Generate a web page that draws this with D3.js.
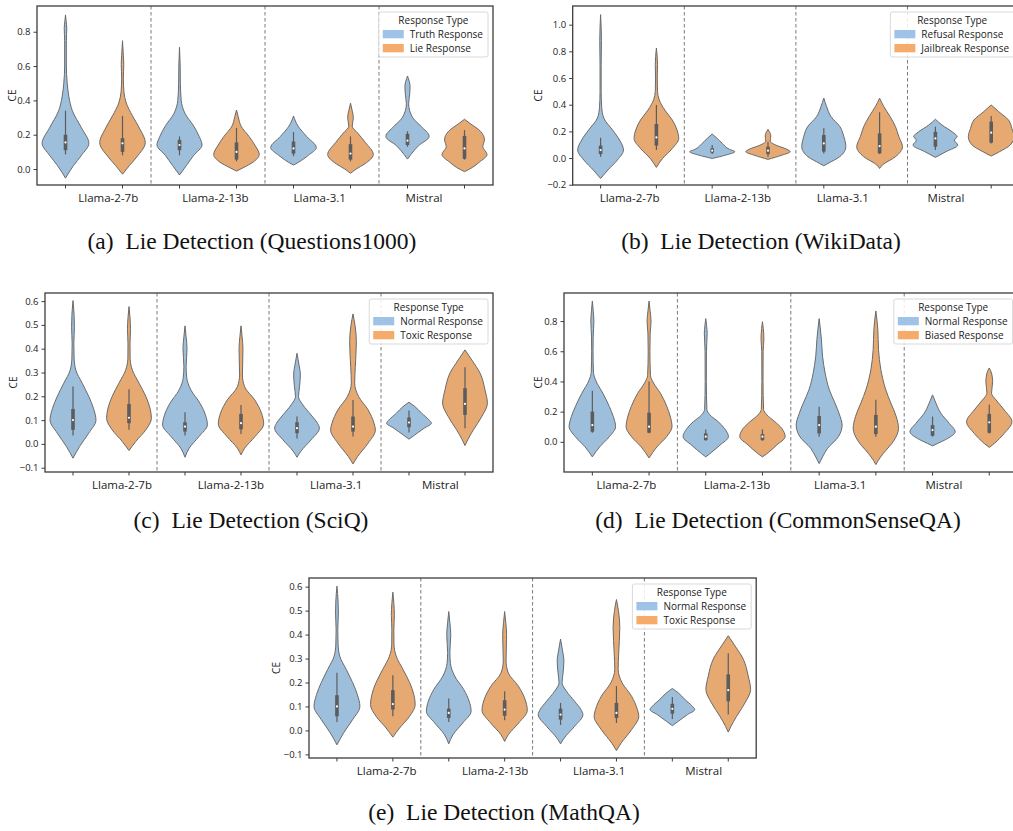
<!DOCTYPE html>
<html><head><meta charset="utf-8">
<script src="https://cdn.jsdelivr.net/npm/d3@7"></script>
<style>body{margin:0;background:#fff}svg{display:block}</style>
</head><body>
<svg id="chart" width="1013" height="831"></svg>
<script>
// ---------------- DATA ----------------
const models = ["Llama-2-7b", "Llama-2-13b", "Llama-3.1", "Mistral"];
const legendA = ["Truth Response", "Lie Response"];
const legendB = ["Refusal Response", "Jailbreak Response"];
const legendC = ["Normal Response", "Toxic Response"];
const legendD = ["Normal Response", "Biased Response"];
const legendE = ["Normal Response", "Toxic Response"];
const yTicksA = [0.0, 0.2, 0.4, 0.6, 0.8];
const yTicksB = [-0.2, 0.0, 0.2, 0.4, 0.6, 0.8, 1.0];
const yTicksC = [-0.1, 0.0, 0.1, 0.2, 0.3, 0.4, 0.5, 0.6];
const yTicksD = [0.0, 0.2, 0.4, 0.6, 0.8];
const yTicksE = [-0.1, 0.0, 0.1, 0.2, 0.3, 0.4, 0.5, 0.6];
const captions = ["(a)  Lie Detection (Questions1000)", "(b)  Lie Detection (WikiData)",
  "(c)  Lie Detection (SciQ)", "(d)  Lie Detection (CommonSenseQA)", "(e)  Lie Detection (MathQA)"];

// violin density profiles: [CE value, relative half-width], order: model x response type
const shapesA = [
  [[-0.053,0],[-0.02,0.06],[0.02,0.14],[0.08,0.28],[0.15,0.41],[0.24,0.28],[0.34,0.12],[0.42,0.06],[0.5,0.03],[0.6,0.015],[0.75,0.015],[0.82,0.022],[0.86,0.012],[0.898,0]],
  [[-0.03,0],[0.02,0.12],[0.07,0.25],[0.155,0.40],[0.23,0.31],[0.31,0.175],[0.385,0.065],[0.45,0.025],[0.53,0.015],[0.61,0.022],[0.66,0.015],[0.748,0]],
  [[-0.035,0],[0.02,0.12],[0.08,0.25],[0.14,0.395],[0.19,0.345],[0.25,0.25],[0.325,0.095],[0.4,0.03],[0.5,0.015],[0.6,0.012],[0.71,0]],
  [[-0.012,0],[0.01,0.13],[0.04,0.29],[0.085,0.40],[0.135,0.33],[0.19,0.22],[0.25,0.08],[0.305,0.03],[0.344,0]],
  [[0.023,0],[0.04,0.09],[0.08,0.26],[0.125,0.40],[0.19,0.23],[0.25,0.08],[0.309,0]],
  [[-0.025,0],[0.0,0.1],[0.03,0.25],[0.085,0.40],[0.155,0.26],[0.21,0.125],[0.25,0.03],[0.3,0.05],[0.34,0.03],[0.384,0]],
  [[0.058,0],[0.085,0.06],[0.135,0.19],[0.19,0.38],[0.25,0.235],[0.3,0.09],[0.38,0.02],[0.44,0.04],[0.48,0.045],[0.542,0]],
  [[-0.015,0],[0.0,0.09],[0.04,0.26],[0.085,0.395],[0.13,0.32],[0.17,0.35],[0.22,0.28],[0.265,0.10],[0.29,0]]
];
const boxesA = [ // [low whisker, q1, median, q3, high whisker]
  [0.085,0.11,0.155,0.2,0.34],[0.08,0.1,0.15,0.18,0.31],[0.08,0.11,0.14,0.17,0.19],[0.045,0.055,0.1,0.155,0.24],
  [0.075,0.09,0.12,0.16,0.215],[0.045,0.055,0.09,0.145,0.19],[0.13,0.14,0.165,0.205,0.22],[0.055,0.06,0.12,0.193,0.227]
];
const shapesB = [
  [[-0.153,0],[-0.09,0.13],[-0.015,0.30],[0.06,0.41],[0.135,0.34],[0.21,0.215],[0.3,0.057],[0.38,0.02],[0.5,0.01],[0.7,0.01],[0.88,0.015],[1.075,0]],
  [[-0.07,0],[-0.003,0.11],[0.072,0.285],[0.147,0.40],[0.21,0.37],[0.285,0.285],[0.36,0.15],[0.437,0.05],[0.5,0.02],[0.6,0.015],[0.7,0.02],[0.825,0]],
  [[-0.003,0],[0.022,0.24],[0.048,0.405],[0.065,0.31],[0.11,0.18],[0.147,0.09],[0.18,0]],
  [[-0.01,0],[0.022,0.25],[0.048,0.40],[0.065,0.34],[0.103,0.11],[0.128,0.04],[0.165,0.05],[0.215,0]],
  [[-0.058,0],[-0.04,0.075],[0.01,0.285],[0.085,0.395],[0.16,0.36],[0.235,0.29],[0.31,0.13],[0.386,0.05],[0.449,0]],
  [[-0.078,0],[-0.052,0.05],[0.01,0.285],[0.085,0.41],[0.16,0.345],[0.235,0.285],[0.31,0.19],[0.386,0.075],[0.449,0]],
  [[0.005,0],[0.048,0.19],[0.097,0.40],[0.135,0.34],[0.16,0.39],[0.197,0.30],[0.247,0.12],[0.291,0]],
  [[0.015,0],[0.048,0.15],[0.097,0.34],[0.16,0.41],[0.223,0.37],[0.285,0.31],[0.348,0.135],[0.398,0]]
];
const boxesB = [
  [0.01,0.03,0.06,0.093,0.153],[0.06,0.093,0.155,0.256,0.398],[0.03,0.04,0.055,0.073,0.097],[0.01,0.03,0.055,0.085,0.123],
  [0.035,0.048,0.11,0.173,0.223],[0.03,0.035,0.09,0.185,0.343],[0.06,0.085,0.147,0.197,0.235],[0.11,0.115,0.19,0.273,0.315]
];
const shapesC = [
  [[-0.06,0],[-0.01,0.12],[0.045,0.28],[0.1,0.41],[0.15,0.365],[0.2,0.28],[0.255,0.165],[0.31,0.05],[0.36,0.02],[0.42,0.015],[0.49,0.025],[0.54,0.02],[0.602,0]],
  [[-0.028,0],[0.01,0.12],[0.059,0.30],[0.108,0.40],[0.15,0.375],[0.2,0.30],[0.255,0.18],[0.31,0.06],[0.36,0.02],[0.42,0.018],[0.48,0.027],[0.53,0.018],[0.577,0]],
  [[-0.056,0],[-0.018,0.075],[0.031,0.25],[0.08,0.40],[0.122,0.365],[0.17,0.27],[0.227,0.105],[0.28,0.03],[0.325,0.02],[0.4,0.036],[0.45,0.02],[0.496,0]],
  [[-0.046,0],[-0.018,0.065],[0.031,0.25],[0.084,0.405],[0.13,0.365],[0.185,0.245],[0.24,0.065],[0.29,0.025],[0.34,0.03],[0.4,0.035],[0.45,0.02],[0.496,0]],
  [[-0.056,0],[-0.032,0.065],[0.017,0.25],[0.066,0.40],[0.087,0.365],[0.122,0.25],[0.164,0.105],[0.199,0.027],[0.24,0.045],[0.29,0.06],[0.34,0.03],[0.381,0]],
  [[-0.084,0],[-0.053,0.083],[0.003,0.27],[0.059,0.40],[0.087,0.375],[0.143,0.27],[0.199,0.10],[0.255,0.03],[0.32,0.04],[0.43,0.06],[0.5,0.035],[0.546,0]],
  [[0.02,0],[0.038,0.105],[0.066,0.27],[0.087,0.40],[0.101,0.357],[0.129,0.225],[0.157,0.105],[0.175,0]],
  [[-0.007,0],[0.017,0.048],[0.059,0.15],[0.115,0.30],[0.171,0.40],[0.227,0.357],[0.297,0.27],[0.353,0.12],[0.395,0]]
];
const boxesC = [
  [0.035,0.059,0.1,0.147,0.241],[0.059,0.087,0.11,0.168,0.23],[0.035,0.052,0.073,0.091,0.133],[0.042,0.061,0.087,0.126,0.164],
  [0.023,0.045,0.066,0.091,0.115],[0.031,0.052,0.073,0.115,0.185],[0.048,0.07,0.09,0.111,0.14],[0.066,0.122,0.168,0.234,0.322]
];
const shapesD = [
  [[-0.1,0],[-0.033,0.13],[0.034,0.30],[0.1,0.41],[0.167,0.37],[0.233,0.30],[0.322,0.185],[0.41,0.056],[0.46,0.02],[0.6,0.012],[0.7,0.015],[0.8,0.027],[0.87,0.015],[0.933,0]],
  [[-0.107,0],[-0.033,0.14],[0.034,0.31],[0.1,0.405],[0.167,0.375],[0.233,0.315],[0.322,0.2],[0.389,0.08],[0.44,0.025],[0.6,0.015],[0.72,0.02],[0.8,0.035],[0.87,0.018],[0.933,0]],
  [[-0.1,0],[-0.078,0.074],[-0.022,0.25],[0.034,0.40],[0.089,0.33],[0.133,0.22],[0.178,0.074],[0.215,0.02],[0.4,0.01],[0.6,0.012],[0.72,0.025],[0.77,0.015],[0.816,0]],
  [[-0.1,0],[-0.078,0.08],[-0.022,0.25],[0.034,0.40],[0.089,0.34],[0.133,0.22],[0.178,0.08],[0.215,0.02],[0.4,0.01],[0.6,0.012],[0.68,0.025],[0.75,0.015],[0.796,0]],
  [[-0.144,0],[-0.1,0.06],[-0.044,0.147],[0.034,0.34],[0.111,0.405],[0.189,0.35],[0.256,0.28],[0.344,0.18],[0.456,0.105],[0.567,0.06],[0.678,0.04],[0.816,0]],
  [[-0.151,0],[-0.122,0.044],[-0.078,0.13],[0.011,0.323],[0.089,0.40],[0.167,0.36],[0.256,0.265],[0.344,0.176],[0.478,0.088],[0.611,0.047],[0.745,0.035],[0.867,0]],
  [[-0.027,0],[-0.011,0.088],[0.022,0.265],[0.067,0.40],[0.122,0.295],[0.189,0.147],[0.256,0.06],[0.311,0]],
  [[-0.037,0],[-0.011,0.088],[0.056,0.265],[0.133,0.40],[0.211,0.265],[0.278,0.118],[0.322,0.04],[0.4,0.06],[0.456,0.04],[0.489,0]]
];
const boxesD = [
  [0.06,0.067,0.111,0.2,0.338],[0.056,0.06,0.1,0.193,0.4],[0.007,0.011,0.034,0.056,0.082],[0.007,0.011,0.034,0.051,0.082],
  [0.034,0.056,0.111,0.171,0.233],[0.034,0.051,0.1,0.178,0.278],[0.034,0.04,0.078,0.111,0.167],[0.055,0.06,0.129,0.185,0.245]
];
// panel (e) shows the same distributions as panel (c)
const shapesE = shapesC;
const boxesE = boxesC;

// ---------------- LAYOUT / STYLE ----------------
const fillColors = ["#9dbfdc", "#e6a972"];
const legendColors = ["#9ec3e6", "#f6ab6b"];
const FONT = "'Open Sans', 'DejaVu Sans', sans-serif";

const panels = [
  {shapes: shapesA, boxes: boxesA, legend: legendA, ticks: yTicksA, caption: captions[0], ceX: 12,
   left: 37, top: 6, bottom: 185, band: 57, dom: [-0.093, 0.95], labelPos: [1.25, 3.13, 4.96, 6.79], capX: 252, capY: 249},
  {shapes: shapesB, boxes: boxesB, legend: legendB, ticks: yTicksB, caption: captions[1], ceX: 538,
   left: 572.7, top: 6, bottom: 185, band: 55.8, dom: [-0.202, 1.14], labelPos: [1.02, 2.96, 4.84, 6.69], capX: 761, capY: 249},
  {shapes: shapesC, boxes: boxesC, legend: legendC, ticks: yTicksC, caption: captions[2], ceX: 13,
   left: 45, top: 293, bottom: 472, band: 56, dom: [-0.118, 0.634], labelPos: [1.375, 3.32, 5.2, 7.06], capX: 251, capY: 528},
  {shapes: shapesD, boxes: boxesD, legend: legendD, ticks: yTicksD, caption: captions[3], ceX: 538,
   left: 564, top: 293, bottom: 472, band: 56.7, dom: [-0.2, 0.986], labelPos: [1.10, 3.05, 4.87, 6.70], capX: 778, capY: 528},
  {shapes: shapesE, boxes: boxesE, legend: legendE, ticks: yTicksE, caption: captions[4], ceX: 276,
   left: 309, top: 578, bottom: 758, band: 55.9, dom: [-0.115, 0.636], labelPos: [1.39, 3.33, 5.19, 7.06], capX: 504, capY: 820}
];

const svg = d3.select("#chart");

panels.forEach(p => {
  const g = svg.append("g");
  const keys = [];
  models.forEach(m => p.legend.forEach(t => keys.push(m + "|" + t)));
  const right = p.left + keys.length * p.band;
  const x = d3.scaleBand().domain(keys).range([p.left, right]).padding(0);
  const xu = d3.scaleLinear().domain([0, keys.length]).range([p.left, right]);
  const y = d3.scaleLinear().domain(p.dom).range([p.bottom, p.top]);
  const cx = k => x(k) + x.bandwidth() / 2;

  // dashed separators between model groups
  g.selectAll("line.sep").data(models.slice(1)).join("line")
    .attr("x1", m => x(m + "|" + p.legend[0])).attr("x2", m => x(m + "|" + p.legend[0]))
    .attr("y1", p.top).attr("y2", p.bottom)
    .attr("stroke", "#7a7a7a").attr("stroke-width", 1).attr("stroke-dasharray", "3.5,2.5");

  // violins
  keys.forEach((k, i) => {
    const c = cx(k);
    const bw = x.bandwidth();
    const area = d3.area()
      .y(d => y(d[0]))
      .x0(d => c - d[1] * bw)
      .x1(d => c + d[1] * bw)
      .curve(d3.curveMonotoneY);
    g.append("path").datum(p.shapes[i]).attr("d", area)
      .attr("fill", fillColors[i % 2]).attr("stroke", "#6a6a6a").attr("stroke-width", 1);
    const b = p.boxes[i];
    g.append("line").attr("x1", c).attr("x2", c).attr("y1", y(b[0])).attr("y2", y(b[4]))
      .attr("stroke", "#5c5c5c").attr("stroke-width", 1.2);
    g.append("line").attr("x1", c).attr("x2", c).attr("y1", y(b[1])).attr("y2", y(b[3]))
      .attr("stroke", "#5c5c5c").attr("stroke-width", 3.6);
    g.append("circle").attr("cx", c).attr("cy", y(b[2])).attr("r", 1.1).attr("fill", "#fff");
  });

  // frame
  g.append("rect").attr("x", p.left).attr("y", p.top)
    .attr("width", right - p.left).attr("height", p.bottom - p.top)
    .attr("fill", "none").attr("stroke", "#3d3d3d").attr("stroke-width", 1.3);

  // y axis
  const ya = g.append("g").attr("transform", `translate(${p.left},0)`)
    .call(d3.axisLeft(y).tickValues(p.ticks).tickSize(3.5).tickPadding(3).tickFormat(d3.format(".1f")));
  ya.select(".domain").remove();
  ya.selectAll("line").attr("stroke", "#3d3d3d");
  ya.selectAll("text").attr("font-family", FONT).attr("font-size", 9.5).attr("fill", "#222");
  g.append("text").attr("transform", `translate(${p.ceX},${(p.top + p.bottom) / 2}) rotate(-90)`)
    .attr("dy", "0.35em")
    .attr("text-anchor", "middle").attr("font-family", FONT).attr("font-size", 10).attr("fill", "#222").text("CE");

  // x axis ticks (one per violin)
  const xa = g.append("g").attr("transform", `translate(0,${p.bottom})`)
    .call(d3.axisBottom(x).tickSize(3.5).tickFormat(""));
  xa.select(".domain").remove();
  xa.selectAll("line").attr("stroke", "#3d3d3d");

  // model labels
  g.selectAll("text.model").data(models).join("text")
    .attr("x", (m, i) => xu(p.labelPos[i])).attr("y", p.bottom + 16.5)
    .attr("text-anchor", "middle").attr("font-family", FONT).attr("font-size", 11.5).attr("fill", "#222")
    .text(m => m);

  // legend
  const lg = g.append("g");
  const tmp = lg.selectAll("text.t").data(p.legend).join("text")
    .attr("font-family", FONT).attr("font-size", 10).text(d => d);
  let tw = 0;
  tmp.each(function () { tw = Math.max(tw, this.getComputedTextLength()); });
  tmp.remove();
  const lw = 4 + 21 + 6 + tw + 5, lh = 45;
  const lx = right - 5 - lw, ly = p.top + 6;
  lg.append("rect").attr("x", lx).attr("y", ly).attr("width", lw).attr("height", lh).attr("rx", 2)
    .attr("fill", "#fff").attr("fill-opacity", 0.85).attr("stroke", "#d9d9d9").attr("stroke-width", 1);
  lg.append("text").attr("x", lx + lw / 2).attr("y", ly + 12).attr("text-anchor", "middle")
    .attr("font-family", FONT).attr("font-size", 10).attr("fill", "#222").text("Response Type");
  p.legend.forEach((t, i) => {
    lg.append("rect").attr("x", lx + 4).attr("y", ly + 18 + i * 14).attr("width", 21).attr("height", 8.3)
      .attr("fill", legendColors[i]);
    lg.append("text").attr("x", lx + 31).attr("y", ly + 26 + i * 14)
      .attr("font-family", FONT).attr("font-size", 10).attr("fill", "#222").text(t);
  });

  // caption
  svg.append("text").attr("x", p.capX).attr("y", p.capY).attr("text-anchor", "middle")
    .attr("font-family", "'Liberation Serif', 'Times New Roman', serif").attr("font-size", 23.5)
    .attr("fill", "#111").style("white-space", "pre").text(p.caption);
});
</script>
</body></html>
